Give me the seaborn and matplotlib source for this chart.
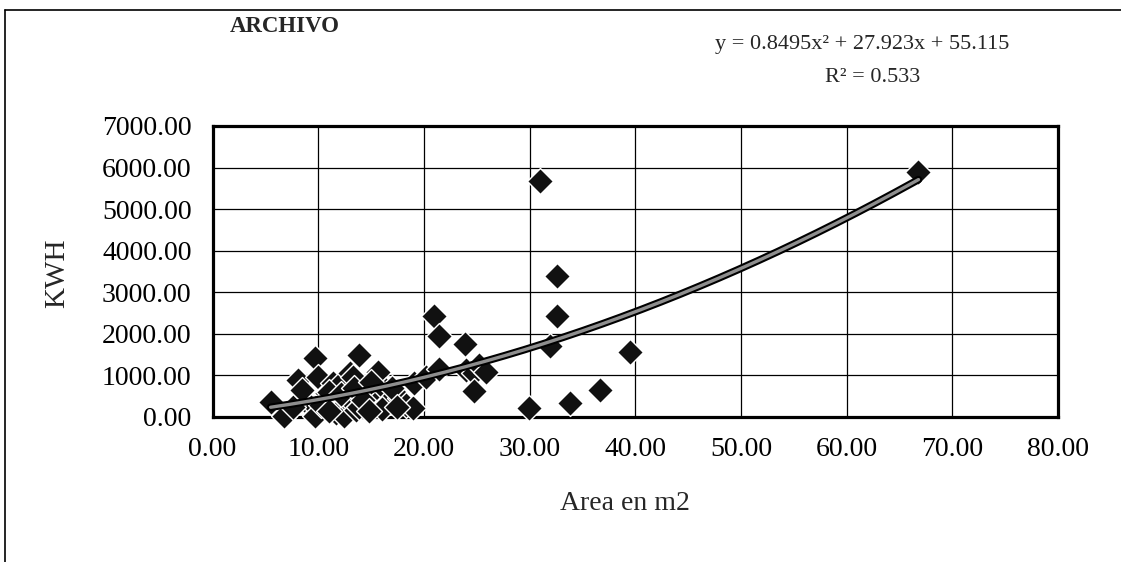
import numpy as np
import pandas as pd
import matplotlib
matplotlib.use("Agg")
import matplotlib.pyplot as plt
import seaborn as sns

# Measured floor area (m2) and energy use (kWh) per record
area_m2 = [5.5, 6.8, 8.1, 8.7, 9.7, 9.8, 9.7, 10.0, 10.8, 11.4,
           11.7, 12.0, 12.4, 12.7, 13.0, 13.0, 13.3, 13.6, 13.9, 13.9,
           14.6, 14.6, 15.2, 15.7, 16.4, 16.5, 17.7, 18.3, 19.0, 19.1,
           20.2, 21.0, 21.4, 21.4, 23.9, 24.0, 24.7, 24.7, 25.2, 25.9,
           29.9, 31.0, 31.9, 32.6, 32.6, 33.8, 36.7, 39.5, 66.8,
           7.6, 8.5, 10.3, 11.0, 12.2, 13.4, 14.2, 15.0, 16.0, 17.0,
           17.5, 11.0, 14.8]
kwh = [350, 30, 890, 420, 1420, 250, 30, 970, 570, 810,
       100, 770, 30, 410, 1060, 400, 970, 180, 1500, 250,
       650, 570, 490, 1080, 650, 330, 450, 280, 210, 820,
       970, 2420, 1950, 1160, 1760, 1130, 1050, 620, 1250, 1080,
       210, 5680, 1700, 3390, 2420, 340, 640, 1560, 5900,
       250, 650, 300, 600, 550, 700, 400, 850, 200, 700,
       250, 150, 150]

# Second-order polynomial trend: a*x^2 + b*x + c
trend_coef = [0.8495, 27.923, 55.115]
r_squared = 0.533

x_ticks = [0, 10, 20, 30, 40, 50, 60, 70, 80]
y_ticks = [0, 1000, 2000, 3000, 4000, 5000, 6000, 7000]

title_text = "ARCHIVO"
x_label = "Area en m2"
y_label = "KWH"

df = pd.DataFrame({"area": area_m2, "kwh": kwh})

sns.set_theme(style="white")
plt.rcParams["font.family"] = ["Liberation Serif", "DejaVu Serif"]

W, H = 1121, 562
fig = plt.figure(figsize=(W / 100, H / 100), dpi=100)
fig.patch.set_facecolor("white")

ax = fig.add_axes([212.5 / W, 1 - 417 / H, (1058 - 212.5) / W, (417 - 126) / H])
ax.set_facecolor("white")

ax.set_xlim(x_ticks[0], x_ticks[-1])
ax.set_ylim(y_ticks[0], y_ticks[-1])
ax.set_xticks(x_ticks)
ax.set_yticks(y_ticks)
ax.set_xticklabels([f"{v:.2f}" for v in x_ticks])
ax.set_yticklabels([f"{v:.2f}" for v in y_ticks])
ax.grid(True, color="black", linewidth=0.9, zorder=0)
ax.set_axisbelow(True)

for s in ax.spines.values():
    s.set_visible(True)
    s.set_color("black")
    s.set_linewidth(2.3)

ax.tick_params(axis="both", which="major", direction="out", length=3,
               width=1, color="black", labelsize=20, labelcolor="black")
ax.tick_params(axis="y", pad=12)
ax.tick_params(axis="x", pad=11.5)

# Data points
sns.scatterplot(data=df, x="area", y="kwh", marker="D", s=175,
                color="#111111", edgecolor="white", linewidth=1.0,
                ax=ax, zorder=3, clip_on=False, legend=False)

# Polynomial trend line over the data range
a, b, c = trend_coef
xx = np.linspace(min(area_m2), max(area_m2), 300)
yy = a * xx ** 2 + b * xx + c
sns.lineplot(x=xx, y=yy, color="black", linewidth=5.4, ax=ax,
             zorder=4, sort=False, estimator=None)
sns.lineplot(x=xx, y=yy, color="#8e8e8e", linewidth=2.4, ax=ax,
             zorder=5, sort=False, estimator=None)
ax.set_xlabel("")
ax.set_ylabel("")

# Labels and annotations
fig.text(285 / W, 1 - 26 / H, title_text, fontsize=16.5, fontweight="bold",
         ha="center", va="center")
fig.text(862 / W, 1 - 45 / H,
         f"y = {a:.4f}x\u00b2 + {b:.3f}x + {c:.3f}",
         fontsize=16, ha="center", va="center")
fig.text(873 / W, 1 - 77 / H, f"R\u00b2 = {r_squared:.3f}",
         fontsize=16, ha="center", va="center")
fig.text(57 / W, 1 - 273 / H, y_label, fontsize=21, rotation=90,
         ha="center", va="center")
fig.text(625 / W, 1 - 503 / H, x_label, fontsize=20,
         ha="center", va="center")

# Outer frame lines (top and left)
fig.add_artist(plt.Line2D([5 / W, 1], [1 - 10 / H, 1 - 10 / H],
                          transform=fig.transFigure, color="black", lw=1.2))
fig.add_artist(plt.Line2D([5 / W, 5 / W], [0, 1 - 10 / H],
                          transform=fig.transFigure, color="black", lw=1.2))

fig.savefig("out.png", dpi=100, facecolor="white")
